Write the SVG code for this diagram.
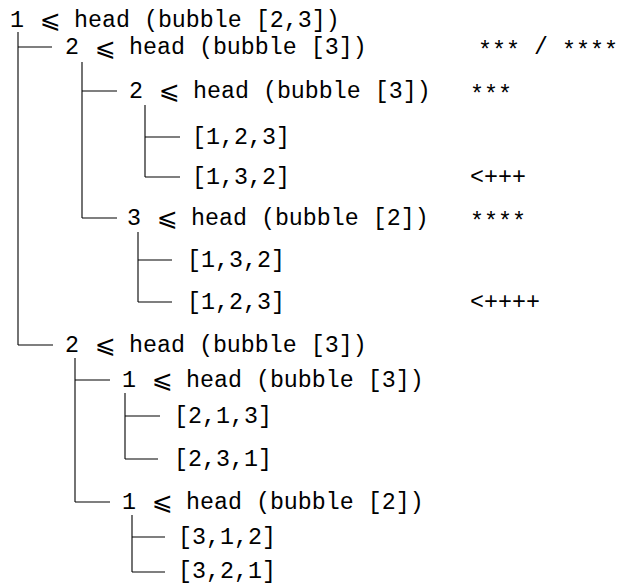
<svg xmlns="http://www.w3.org/2000/svg" width="619" height="584" viewBox="0 0 619 584">
<style>
text { font-family: "Liberation Mono", "DejaVu Sans Mono", monospace; font-size: 23.3px; fill: #000; }
text.op { font-family: "DejaVu Sans", "Noto Sans", sans-serif; font-size: 25px; }
#connectors line { stroke: #000; stroke-width: 1.1; fill: none; }
</style>
<rect width="619" height="584" fill="#fff"/>
<g id="connectors">
  <line x1="18" y1="32" x2="18" y2="345"/>
  <line x1="82" y1="62" x2="82" y2="218"/>
  <line x1="145" y1="105" x2="145" y2="177"/>
  <line x1="138" y1="232" x2="138" y2="302"/>
  <line x1="75" y1="358" x2="75" y2="502"/>
  <line x1="125" y1="393" x2="125" y2="459"/>
  <line x1="132" y1="515" x2="132" y2="572"/>
  <line x1="18" y1="47" x2="52" y2="47"/>
  <line x1="82" y1="91" x2="117" y2="91"/>
  <line x1="145" y1="137" x2="180" y2="137"/>
  <line x1="145" y1="177" x2="180" y2="177"/>
  <line x1="82" y1="218" x2="117" y2="218"/>
  <line x1="138" y1="260" x2="172" y2="260"/>
  <line x1="138" y1="302" x2="172" y2="302"/>
  <line x1="18" y1="345" x2="53" y2="345"/>
  <line x1="75" y1="380" x2="110" y2="380"/>
  <line x1="125" y1="416" x2="160" y2="416"/>
  <line x1="125" y1="459" x2="158" y2="459"/>
  <line x1="75" y1="502" x2="110" y2="502"/>
  <line x1="132" y1="537" x2="165" y2="537"/>
  <line x1="132" y1="572" x2="165" y2="572"/>
</g>
<g id="n1"><text x="10" y="27">1</text><text class="op" x="40" y="28">⩽</text><text x="74" y="27">head (bubble [2,3])</text></g>
<g id="n2"><text x="65" y="54">2</text><text class="op" x="95" y="56">⩽</text><text x="129" y="54">head (bubble [3])</text><text x="478" y="58">***</text><text x="534" y="54">/</text><text x="562" y="58">****</text></g>
<g id="n3"><text x="129" y="98">2</text><text class="op" x="159" y="99">⩽</text><text x="193" y="98">head (bubble [3])</text><text x="470" y="102">***</text></g>
<g id="n4"><text x="192" y="144">[1,2,3]</text></g>
<g id="n5"><text x="192" y="184">[1,3,2]</text><text x="470" y="184">&lt;+++</text></g>
<g id="n6"><text x="127" y="225">3</text><text class="op" x="157" y="226">⩽</text><text x="191" y="225">head (bubble [2])</text><text x="470" y="229">****</text></g>
<g id="n7"><text x="187" y="267">[1,3,2]</text></g>
<g id="n8"><text x="187" y="309">[1,2,3]</text><text x="470" y="309">&lt;++++</text></g>
<g id="n9"><text x="65" y="352">2</text><text class="op" x="95" y="353">⩽</text><text x="129" y="352">head (bubble [3])</text></g>
<g id="n10"><text x="122" y="387">1</text><text class="op" x="152" y="388">⩽</text><text x="186" y="387">head (bubble [3])</text></g>
<g id="n11"><text x="174" y="423">[2,1,3]</text></g>
<g id="n12"><text x="174" y="466">[2,3,1]</text></g>
<g id="n13"><text x="122" y="509">1</text><text class="op" x="152" y="510">⩽</text><text x="186" y="509">head (bubble [2])</text></g>
<g id="n14"><text x="178" y="544">[3,1,2]</text></g>
<g id="n15"><text x="178" y="578">[3,2,1]</text></g>
</svg>
